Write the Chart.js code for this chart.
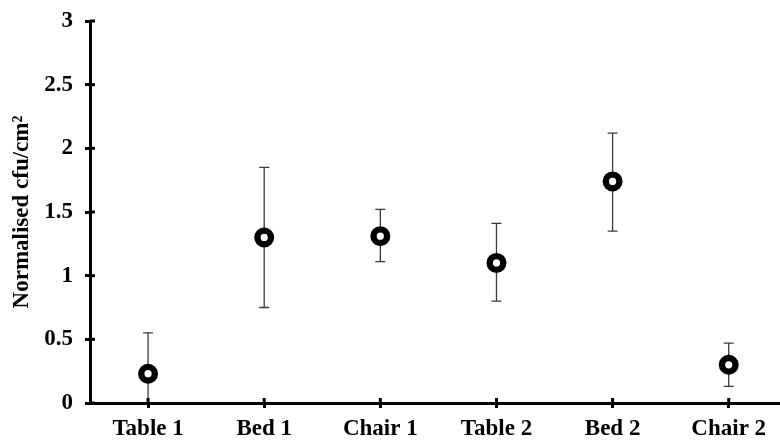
<!DOCTYPE html>
<html>
<head>
<meta charset="utf-8">
<script src="https://cdn.jsdelivr.net/npm/chart.js@4/dist/chart.umd.min.js"></script>
<style>
  html, body { margin: 0; padding: 0; background: #fff; overflow: hidden; width: 780px; height: 443px; }
  #wrap { width: 800px; height: 443px; }
</style>
</head>
<body>
<div id="wrap"><canvas id="c" width="800" height="443" style="width:800px;height:443px"></canvas></div>
<script>
const categories = ['Table 1', 'Bed 1', 'Chair 1', 'Table 2', 'Bed 2', 'Chair 2'];
const means = [0.23, 1.30, 1.31, 1.10, 1.74, 0.30];
const upperValues = [0.55, 1.85, 1.52, 1.41, 2.12, 0.47];
const lowerValues = [-0.09, 0.75, 1.11, 0.80, 1.35, 0.13];
const yTitle = 'Normalised cfu/cm²';

const FONT = 'Liberation Serif, "Times New Roman", serif';

const errorBars = {
  id: 'errorBars',
  beforeDatasetsDraw(chart) {
    const {ctx, chartArea, scales: {x, y}} = chart;
    ctx.save();
    ctx.beginPath();
    ctx.rect(chartArea.left, chartArea.top - 5, chartArea.right - chartArea.left, chartArea.bottom - chartArea.top + 5);
    ctx.clip();
    ctx.strokeStyle = '#3a3a3a';
    ctx.lineWidth = 1.3;
    const cap = 5;
    categories.forEach((c, i) => {
      const px = x.getPixelForValue(i);
      const yt = y.getPixelForValue(upperValues[i]);
      const yb = y.getPixelForValue(lowerValues[i]);
      ctx.beginPath();
      ctx.moveTo(px, yt); ctx.lineTo(px, yb);
      ctx.moveTo(px - cap, yt); ctx.lineTo(px + cap, yt);
      ctx.moveTo(px - cap, yb); ctx.lineTo(px + cap, yb);
      ctx.stroke();
    });
    ctx.restore();
  }
};

const innerTicks = {
  id: 'innerTicks',
  afterDraw(chart) {
    const {ctx, chartArea, scales: {x, y}} = chart;
    ctx.save();
    ctx.strokeStyle = '#000';
    ctx.lineWidth = 3;
    ctx.beginPath();
    y.ticks.forEach((t, i) => {
      const py = y.getPixelForTick(i);
      ctx.moveTo(chartArea.left, py); ctx.lineTo(chartArea.left + 5, py);
    });
    x.ticks.forEach((t, i) => {
      const px = x.getPixelForTick(i);
      ctx.moveTo(px, chartArea.bottom); ctx.lineTo(px, chartArea.bottom - 5);
    });
    ctx.stroke();
    ctx.restore();
  }
};

new Chart(document.getElementById('c'), {
  type: 'line',
  data: {
    labels: categories,
    datasets: [{
      data: means,
      showLine: false,
      pointStyle: 'circle',
      pointRadius: 6.8,
      pointHoverRadius: 6.8,
      pointBorderWidth: 6.4,
      pointBorderColor: '#000',
      pointBackgroundColor: '#fff'
    }]
  },
  options: {
    responsive: false,
    animation: false,
    events: [],
    layout: { padding: { top: 21, left: 0, right: 0, bottom: 0 } },
    plugins: { legend: { display: false }, tooltip: { enabled: false } },
    scales: {
      x: {
        type: 'category',
        offset: true,
        border: { display: true, color: '#000', width: 3 },
        grid: { drawOnChartArea: false, drawTicks: true, tickLength: 5, tickColor: '#000', tickWidth: 3, offset: false },
        ticks: { color: '#000', padding: 7, font: { family: FONT, size: 23, weight: 'bold' }, maxRotation: 0 },
        afterFit(s) { s.height = 40; }
      },
      y: {
        min: 0, max: 3,
        border: { display: true, color: '#000', width: 3 },
        grid: { drawOnChartArea: false, drawTicks: true, tickLength: 5, tickColor: '#000', tickWidth: 3 },
        ticks: { stepSize: 0.5, color: '#000', padding: 12, font: { family: FONT, size: 23, weight: 'bold' },
                 callback: (v) => String(Number(v)) },
        title: { display: true, text: yTitle, color: '#000', padding: { top: 8, bottom: 0 }, font: { family: FONT, size: 23, weight: 'bold' } },
        afterFit(s) { s.width = 90; s.paddingTop = 0; s.paddingBottom = 0; }
      }
    }
  },
  plugins: [errorBars, innerTicks]
});
</script>
</body>
</html>
